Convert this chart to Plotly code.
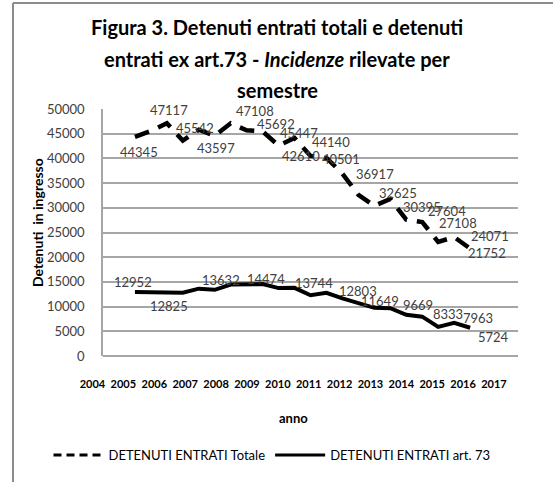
import plotly.graph_objects as go

# ---------------- data ----------------
semestri = ["2005-I", "2005-II", "2006-I", "2006-II", "2007-I", "2007-II",
            "2008-I", "2008-II", "2009-I", "2009-II", "2010-I", "2010-II",
            "2011-I", "2011-II", "2012-I", "2012-II", "2013-I", "2013-II",
            "2014-I", "2014-II", "2015-I", "2015-II"]
anno_x = [2005.0, 2005.5, 2006.0, 2006.5, 2007.0, 2007.5, 2008.0, 2008.5,
          2009.0, 2009.5, 2010.0, 2010.5, 2011.0, 2011.5, 2012.0, 2012.5,
          2013.0, 2013.5, 2014.0, 2014.5, 2015.0, 2015.5]
entrati_totale = [44345, 45542, 47117, 43597, 45800, 44600, 47108, 45692,
                  45447, 42610, 44140, 40501, 40100, 36917, 32625, 30395,
                  31800, 27604, 27108, 23100, 24071, 21752]
entrati_art73 = [12952, 12900, 12850, 12825, 13632, 13400, 14474, 14500,
                 14550, 13744, 13800, 12300, 12803, 11649, 10750, 9750,
                 9669, 8333, 7963, 5900, 6700, 5724]
anni_ticks = list(range(2004, 2018))
y_ticks = list(range(0, 50001, 5000))
nomi_serie = ["DETENUTI ENTRATI Totale", "DETENUTI ENTRATI art. 73"]

# which points carry a data label, and the label offset (dx, dy) in px
label_tot = {0: (4, 15), 1: (44, -3), 2: (2, -13), 3: (33, 7), 6: (24, -12),
             7: (29, -6), 8: (36, 2), 9: (22, 10), 10: (36, 4), 11: (30, 3),
             13: (33, 0), 14: (40, -2), 15: (48, 1), 17: (41, -9),
             18: (36, 1), 20: (36, -1), 21: (17, 4)}
label_art = {0: (-2, -10), 3: (-14, 13), 4: (22, -9), 6: (35, -6),
             9: (35, -5), 12: (32, -2), 13: (38, 3), 16: (28, -3),
             17: (42, -1), 18: (56, 1), 21: (23, 9)}

# ---------------- layout geometry ----------------
W, H = 553, 482
ML, MR, MT, MB = 60, 20, 109, 126
PW = W - ML - MR
PH = H - MT - MB


def px_x(px):
    return (px - ML) / PW


def px_y(py):
    return (H - MB - py) / PH


FONT = "Lato, 'Open Sans', sans-serif"
GRAY_TXT = "#404040"
GRID = "#a6a6a6"

fig = go.Figure()
fig.add_trace(go.Scatter(
    x=anno_x, y=entrati_totale, mode="lines", name=nomi_serie[0],
    line=dict(color="black", width=4.5, dash="15px,10px"),
    text=semestri, hoverinfo="text+y", showlegend=False,
    legendgroup="tot"))
fig.add_trace(go.Scatter(
    x=anno_x, y=entrati_art73, mode="lines", name=nomi_serie[1],
    line=dict(color="black", width=4),
    text=semestri, hoverinfo="text+y", showlegend=False,
    legendgroup="art"))
# legend entries (thinner keys, as in the original legend)
fig.add_trace(go.Scatter(
    x=[None], y=[None], mode="lines", name=nomi_serie[0],
    line=dict(color="black", width=3, dash="8px,5px"), legendgroup="tot"))
fig.add_trace(go.Scatter(
    x=[None], y=[None], mode="lines", name=nomi_serie[1],
    line=dict(color="black", width=3), legendgroup="art"))
# carrier for the year labels axis
fig.add_trace(go.Scatter(x=[], y=[], xaxis="x2", yaxis="y2",
                         showlegend=False, hoverinfo="skip"))

annotations = []
for series, labels in ((entrati_totale, label_tot), (entrati_art73, label_art)):
    for i, (dx, dy) in labels.items():
        annotations.append(dict(
            x=anno_x[i], y=series[i], xref="x", yref="y",
            text=str(series[i]), showarrow=False,
            xshift=dx, yshift=-dy,
            font=dict(family=FONT, size=13, color=GRAY_TXT)))

title_lines = ["<b>Figura 3. Detenuti entrati totali e detenuti</b>",
               "<b>entrati ex art.73 - <i>Incidenze</i> rilevate per</b>",
               "<b>semestre</b>"]
for txt, ypx in zip(title_lines, (27, 59, 90)):
    annotations.append(dict(
        x=px_x(277), y=px_y(ypx), xref="paper", yref="paper",
        text=txt, showarrow=False, xanchor="center", yanchor="middle",
        font=dict(family=FONT, size=20, color="black")))

annotations.append(dict(
    x=px_x(37), y=px_y(223), xref="paper", yref="paper",
    text="<b>Detenuti  in ingresso</b>", textangle=-90, showarrow=False,
    xanchor="center", yanchor="middle",
    font=dict(family=FONT, size=14, color="black")))
annotations.append(dict(
    x=px_x(293), y=px_y(418), xref="paper", yref="paper",
    text="<b>anno</b>", showarrow=False, xanchor="center", yanchor="middle",
    font=dict(family=FONT, size=13, color="black")))

# outer frame (top and left edges)
shapes = [
    dict(type="line", xref="paper", yref="paper",
         x0=px_x(13), x1=px_x(W + 5), y0=px_y(3), y1=px_y(3),
         line=dict(color="#8c8c8c", width=2)),
    dict(type="line", xref="paper", yref="paper",
         x0=px_x(13), x1=px_x(13), y0=px_y(3), y1=px_y(H + 5),
         line=dict(color="#8c8c8c", width=2)),
]

# year label axis: 2004 label centered at px 92.5, 2017 at px 494
step = (494 - 92.5) / 13
x2_lo = 2004 - (92.5 - ML) / step
x2_hi = 2004 + (ML + PW - 92.5) / step

fig.update_layout(
    width=W, height=H,
    margin=dict(l=ML, r=MR, t=MT, b=MB),
    paper_bgcolor="white", plot_bgcolor="rgba(0,0,0,0)",
    showlegend=True,
    legend=dict(orientation="h", x=px_x(272), xanchor="center",
                y=px_y(455), yanchor="middle",
                font=dict(family=FONT, size=13, color="black"),
                itemwidth=50, bgcolor="rgba(0,0,0,0)"),
    xaxis=dict(domain=[px_x(103), px_x(518)], range=[2004, 2017],
               showticklabels=False, showgrid=False, zeroline=False,
               showline=False, ticks=""),
    yaxis=dict(range=[0, 50000], tickvals=y_ticks,
               ticktext=[str(v) for v in y_ticks],
               showgrid=True, gridcolor=GRID, gridwidth=1.5,
               zeroline=True, zerolinecolor=GRID, zerolinewidth=1.5,
               showline=True, linecolor=GRID, linewidth=1.5,
               ticks="", ticklabelstandoff=14,
               tickfont=dict(family=FONT, size=13, color=GRAY_TXT)),
    xaxis2=dict(domain=[0, 1], anchor="y2", range=[x2_lo, x2_hi],
                tickvals=anni_ticks, ticktext=[str(a) for a in anni_ticks],
                tickangle=0, showgrid=False, zeroline=False, showline=False,
                ticks="", ticklabelstandoff=20,
                tickfont=dict(family="Lato, sans-serif",
                              size=11, color="black", weight="bold")),
    yaxis2=dict(domain=[0, 1], anchor="x2", range=[0, 1], visible=False),
    annotations=annotations,
    shapes=shapes,
    hovermode="closest",
)

fig.write_html("out.html",
               config={"displayModeBar": False},
               post_script="document.body.style.margin='0px';")
